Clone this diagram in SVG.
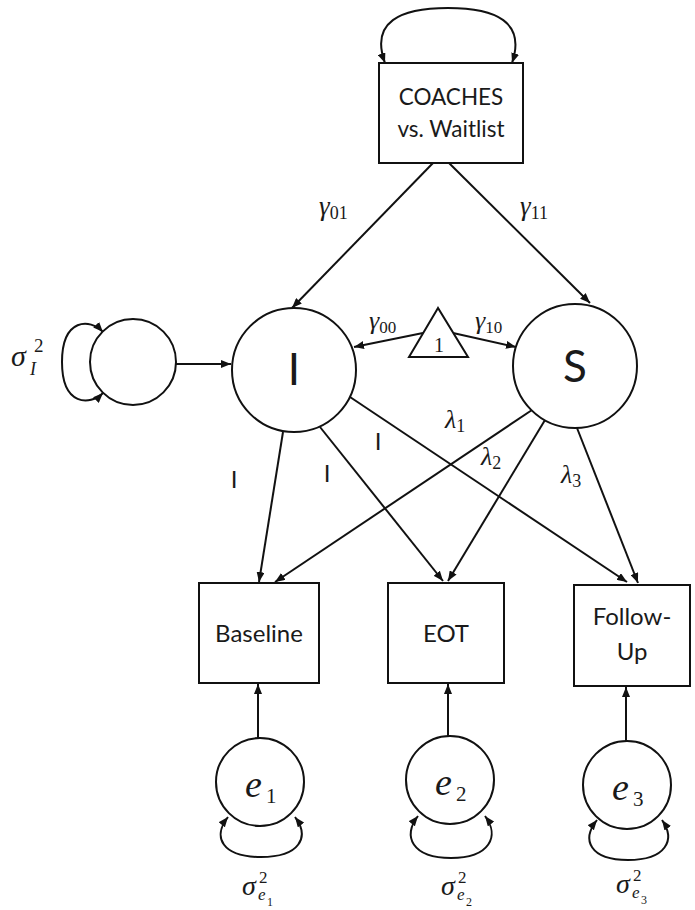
<svg xmlns="http://www.w3.org/2000/svg" width="695" height="910" viewBox="0 0 695 910">
<style>
.shape{fill:#fff;stroke:#111;stroke-width:2}
.line{fill:none;stroke:#111;stroke-width:2}
.lbl{font-family:Lato,"Liberation Sans",sans-serif;fill:#1a1a1a;text-anchor:middle}
.math{font-family:"Liberation Serif","DejaVu Serif",serif;font-style:italic;fill:#1a1a1a}
.num{font-family:"Liberation Serif","DejaVu Serif",serif;font-style:normal;fill:#1a1a1a}
</style>
<defs>
<marker id="ah" viewBox="0 0 10 8" refX="10" refY="4" markerWidth="10" markerHeight="8" markerUnits="userSpaceOnUse" orient="auto-start-reverse">
<path d="M0,0 L10,4 L0,8 z" fill="#111"/>
</marker>
</defs>
<rect width="695" height="910" fill="#fff"/>

<g id="connectors">
<path class="line" d="M433,163 L292,308" marker-end="url(#ah)"/>
<path class="line" d="M449,163 L590,303" marker-end="url(#ah)"/>
<path class="line" d="M423,333 L354,347" marker-end="url(#ah)"/>
<path class="line" d="M453,333 L516,347" marker-end="url(#ah)"/>
<path class="line" d="M176,364 L231,364" marker-end="url(#ah)"/>
<path class="line" d="M283,432 L259,582" marker-end="url(#ah)"/>
<path class="line" d="M320,427 L443,581" marker-end="url(#ah)"/>
<path class="line" d="M350,397 L627,582" marker-end="url(#ah)"/>
<path class="line" d="M532,410 L275,582" marker-end="url(#ah)"/>
<path class="line" d="M545,420 L448,581" marker-end="url(#ah)"/>
<path class="line" d="M577,428 L638,583" marker-end="url(#ah)"/>
<path class="line" d="M258,738 L258,684" marker-end="url(#ah)"/>
<path class="line" d="M448,737 L448,684" marker-end="url(#ah)"/>
<path class="line" d="M626,741 L626,687" marker-end="url(#ah)"/>
<path class="line" d="M385,63 C370,22 400,8 448,8 C496,8 526,22 512,63" marker-start="url(#ah)" marker-end="url(#ah)"/>
<path class="line" d="M103,332 C90,318 62,318 62,362 C62,406 90,406 103,393" marker-start="url(#ah)" marker-end="url(#ah)"/>
<path class="line" d="M228,817 C212,837 222,857 261,857 C300,857 310,837 295,817" marker-start="url(#ah)" marker-end="url(#ah)"/>
<path class="line" d="M418,816 C402,836 412,858 451,858 C490,858 500,836 485,816" marker-start="url(#ah)" marker-end="url(#ah)"/>
<path class="line" d="M597,820 C581,840 590,860 628,860 C666,860 676,840 662,820" marker-start="url(#ah)" marker-end="url(#ah)"/>
</g>

<g id="coaches">
<rect class="shape" x="379" y="63" width="144" height="100"/>
<text class="lbl" x="451" y="105" font-size="22.5">COACHES</text>
<text class="lbl" x="451" y="137" font-size="22.5">vs. Waitlist</text>
</g>

<g id="sigmaI">
<circle class="shape" cx="133" cy="362" r="43"/>
<text class="math" x="11" y="366" font-size="30">σ</text>
<text class="num" x="34" y="352" font-size="19">2</text>
<text class="math" x="30" y="375" font-size="18">I</text>
</g>

<g id="intercept">
<circle class="shape" cx="294" cy="370" r="62"/>
<text class="lbl" x="294" y="385" font-size="44">I</text>
</g>

<g id="slope">
<circle class="shape" cx="575" cy="366" r="62"/>
<text class="lbl" x="575" y="382" font-size="44">S</text>
</g>

<g id="constant">
<polygon class="shape" points="438,308 409,357 468,357"/>
<text class="num" x="439" y="352" font-size="20" text-anchor="middle">1</text>
</g>

<g id="baseline">
<rect class="shape" x="199" y="583" width="120" height="100"/>
<text class="lbl" x="259" y="642" font-size="24">Baseline</text>
</g>
<g id="eot">
<rect class="shape" x="388" y="583" width="116" height="100"/>
<text class="lbl" x="446" y="642" font-size="24">EOT</text>
</g>
<g id="followup">
<rect class="shape" x="574" y="585" width="116" height="101"/>
<text class="lbl" x="632" y="625" font-size="24">Follow-</text>
<text class="lbl" x="632" y="660" font-size="24">Up</text>
</g>

<g id="e1">
<circle class="shape" cx="260" cy="782" r="44"/>
<text class="math" x="245" y="797" font-size="38">e</text>
<text class="num" x="266" y="803" font-size="21">1</text>
</g>
<g id="e2">
<circle class="shape" cx="450" cy="780" r="44"/>
<text class="math" x="435" y="795" font-size="38">e</text>
<text class="num" x="456" y="801" font-size="21">2</text>
</g>
<g id="e3">
<circle class="shape" cx="627" cy="785" r="44"/>
<text class="math" x="612" y="800" font-size="38">e</text>
<text class="num" x="633" y="806" font-size="21">3</text>
</g>

<g id="labels">
<text class="math" x="319" y="215" font-size="27">γ<tspan class="num" font-size="18" dy="4">01</tspan></text>
<text class="math" x="520" y="215" font-size="27">γ<tspan class="num" font-size="18" dy="4">11</tspan></text>
<text class="math" x="369" y="329" font-size="26">γ<tspan class="num" font-size="17" dy="4">00</tspan></text>
<text class="math" x="475" y="329" font-size="26">γ<tspan class="num" font-size="17" dy="4">10</tspan></text>
<text class="math" x="445" y="428" font-size="26">λ<tspan class="num" font-size="18" dy="4">1</tspan></text>
<text class="math" x="481" y="465" font-size="26">λ<tspan class="num" font-size="18" dy="4">2</tspan></text>
<text class="math" x="561" y="483" font-size="26">λ<tspan class="num" font-size="18" dy="4">3</tspan></text>
<text class="lbl" x="234" y="488" font-size="24">I</text>
<text class="lbl" x="327" y="482" font-size="24">I</text>
<text class="lbl" x="378" y="450" font-size="24">I</text>
<text class="math" x="242" y="895" font-size="28">σ</text>
<text class="num" x="259" y="883" font-size="17">2</text>
<text class="math" x="258" y="900" font-size="17">e</text>
<text class="num" x="267" y="906" font-size="12">1</text>
<text class="math" x="441" y="895" font-size="28">σ</text>
<text class="num" x="458" y="883" font-size="17">2</text>
<text class="math" x="457" y="900" font-size="17">e</text>
<text class="num" x="466" y="906" font-size="12">2</text>
<text class="math" x="616" y="893" font-size="28">σ</text>
<text class="num" x="633" y="881" font-size="17">2</text>
<text class="math" x="632" y="898" font-size="17">e</text>
<text class="num" x="641" y="904" font-size="12">3</text>
</g>
</svg>
